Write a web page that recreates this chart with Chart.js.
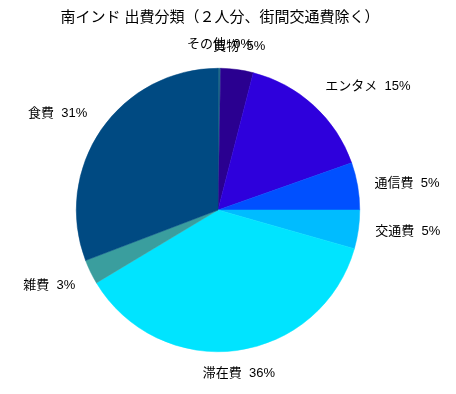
<!DOCTYPE html>
<html><head><meta charset="utf-8">
<script src="https://cdn.jsdelivr.net/npm/chart.js@4/dist/chart.umd.min.js"></script>
<style>html,body{margin:0;padding:0;background:#fff}</style>
</head><body>
<canvas id="c" width="456" height="394"></canvas>
<script>
const titleText = '南インド 出費分類（２人分、街間交通費除く）';
const categories = ['その他', '買物', 'エンタメ', '通信費', '交通費', '滞在費', '雑費', '食費'];
const values = [0.3, 3.7, 15.6, 5.4, 4.4, 37.0, 2.8, 30.8];
const labelPct = [0, 5, 15, 5, 5, 36, 3, 31];
const colors = ['#1f6a88', '#2a0090', '#2e00dc', '#0050ff', '#00bcff', '#00e4ff', '#3a9e9e', '#004a82'];

const labelFont = '13px "Liberation Sans", "Noto Sans CJK JP", sans-serif';
const titleFont = '15px "Liberation Sans", "Noto Sans CJK JP", sans-serif';

const outsideLabels = {
  id: 'outsideLabels',
  afterDatasetsDraw(chart) {
    const ctx = chart.ctx;
    const meta = chart.getDatasetMeta(0);
    ctx.save();
    ctx.fillStyle = '#000';
    ctx.font = titleFont;
    ctx.textAlign = 'center';
    ctx.textBaseline = 'middle';
    ctx.fillText(titleText, 220, 18);
    ctx.font = labelFont;
    meta.data.forEach((arc, i) => {
      const p = arc.getProps(['x', 'y', 'startAngle', 'endAngle', 'outerRadius'], true);
      const mid = (p.startAngle + p.endAngle) / 2;
      const r = p.outerRadius + 17;
      const c = Math.cos(mid), s = Math.sin(mid);
      const ax = p.x + c * r, ay = p.y + s * r;
      ctx.textAlign = c > 0.2 ? 'left' : (c < -0.2 ? 'right' : 'center');
      const h = 13;
      let cy = ay;
      if (s < -0.3) cy = ay - h / 2; else if (s > 0.3) cy = ay + h / 2;
      ctx.textBaseline = 'middle';
      ctx.fillText(categories[i] + '  ' + labelPct[i] + '%', ax, cy);
    });
    ctx.restore();
  }
};

new Chart(document.getElementById('c'), {
  type: 'pie',
  data: {
    labels: categories,
    datasets: [{
      data: values,
      backgroundColor: colors,
      borderColor: colors,
      borderWidth: 0.5
    }]
  },
  options: {
    responsive: false,
    animation: false,
    layout: { padding: { left: 76, right: 96, top: 68, bottom: 42 } },
    plugins: {
      legend: { display: false },
      tooltip: { enabled: false },
      title: { display: false }
    }
  },
  plugins: [outsideLabels]
});
</script>
</body></html>
